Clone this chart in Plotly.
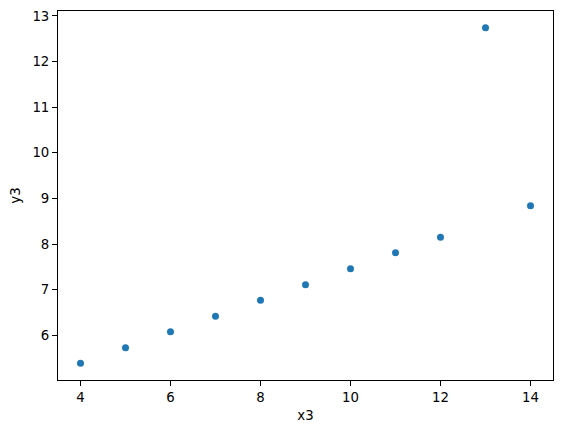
import plotly.graph_objects as go

x3 = [10, 8, 13, 9, 11, 14, 6, 4, 12, 7, 5]
y3 = [7.46, 6.77, 12.74, 7.11, 7.81, 8.84, 6.08, 5.39, 8.15, 6.42, 5.73]

fig = go.Figure(go.Scatter(
    x=x3, y=y3, mode='markers',
    marker=dict(color='#1f77b4', size=7, line=dict(width=0)),
))

axis_style = dict(
    showgrid=False, zeroline=False, automargin=False,
    showline=True, linecolor='black', linewidth=1, mirror=True,
    ticks='outside', ticklen=5, tickwidth=1, tickcolor='black',
    tickfont=dict(family='DejaVu Sans', size=13.3, color='black'),
)

fig.update_layout(
    width=563, height=433,
    margin=dict(l=57.5, r=9.5, t=10.5, b=53),
    paper_bgcolor='white', plot_bgcolor='white',
    font=dict(family='DejaVu Sans', size=13.3, color='black'),
    showlegend=False,
    xaxis=dict(axis_style, range=[3.5, 14.5], dtick=2,
               title=dict(text='x3', standoff=6,
                          font=dict(family='DejaVu Sans', size=13.3))),
    yaxis=dict(axis_style, range=[5.0225, 13.1075], dtick=1,
               title=dict(text='y3', standoff=8,
                          font=dict(family='DejaVu Sans', size=13.3))),
)

# drop the default 8px body margin so the figure sits at the page corner
fig.write_html("out.html", config={'displayModeBar': False},
               post_script="document.body.style.margin='0';")
